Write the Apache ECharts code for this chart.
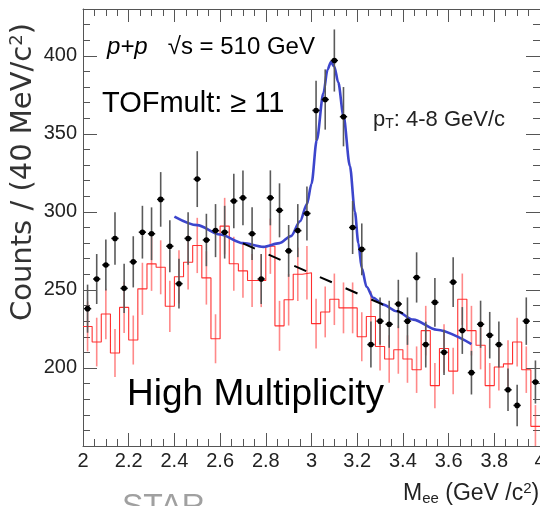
<!DOCTYPE html>
<html><head><meta charset="utf-8">
<script src="https://cdn.jsdelivr.net/npm/echarts@6/dist/echarts.min.js"></script>
<style>html,body{margin:0;padding:0;background:#fff;overflow:hidden}#c{width:540px;height:506px}</style>
</head><body><div id="c"></div>
<script>
// ---- axis setup ----
const xMin = 2.0, xMax = 4.0, binWidth = 0.04;
const yMin = 150, yMax = 430;
const xTickLabels = ['2','2.2','2.4','2.6','2.8','3','3.2','3.4','3.6','3.8','4'];
const yTickLabels = ['200','250','300','350','400'];

// ---- unlike-sign data (black points), one per 40 MeV bin from 2.00 to 4.00 ----
const dataCounts = [238,257,266,283,251,268,287,286,308,278,
                    254,283,321,282,288,287,307,309,286,257,
                    309,301,275,288,299,365,372,397,361,290,
                    276,215,230,228,241,230,258,215,242,210,
                    255,224,197,228,221,215,186,176,230,191];
const dataErrors = [15.4,16.0,16.3,16.8,15.8,16.4,16.9,16.9,17.5,16.7,
                    15.9,16.8,17.9,16.8,17.0,16.9,17.5,17.6,16.9,16.0,
                    17.6,17.3,16.6,17.0,17.3,19.1,19.3,19.9,19.0,17.0,
                    16.6,14.7,15.2,15.1,15.5,15.2,16.1,14.7,15.6,14.5,
                    16.0,15.0,14.0,15.1,14.9,14.7,13.6,13.3,15.2,13.8];

// ---- like-sign background (red histogram) ----
const likeSignCounts = [226.6,216.6,234.6,209.6,238.8,217.9,250.7,266.7,264.5,239.5,
                        258.4,267.7,278.5,257.7,218.7,290.9,266.8,262.2,256.0,256.0,
                        278.0,227.0,243.7,260.0,261.0,228.4,235.9,244.0,238.5,238.5,
                        220.0,233.0,213.8,205.7,211.7,205.7,198.9,223.9,188.7,212.5,
                        198.0,244.0,223.9,214.6,188.7,200.6,202.6,216.6,198.9,162.6];
const likeSignErrors = [16.0,15.6,16.2,15.4,16.4,15.7,16.7,17.3,17.3,16.4,
                        17.1,17.4,17.7,17.1,15.7,18.1,17.3,17.2,17.0,17.0,
                        17.7,16.0,16.5,17.1,17.2,16.0,16.3,16.5,16.3,16.3,
                        15.7,16.2,15.5,15.2,15.4,15.2,14.9,15.9,14.5,15.5,
                        14.9,16.5,15.9,15.5,14.5,15.1,15.1,15.6,14.9,13.6];

// ---- fit curve (signal + background) ----
const fitX = [2.40,2.50,2.60,2.70,2.79,2.86,2.91,2.95,2.98,3.00,3.023,3.052,3.07,3.085,3.10,3.117,3.14,3.168,3.19,3.205,3.22,3.241,3.27,3.314,3.373,3.445,3.548,3.70];
const fitY = [297,291.5,285.5,280,277.6,280,284.5,294,305,318,346,376,391,396,393,383,361.5,329.4,300,280,264,252,245,240.6,236.3,231,224.5,215.3];

// ---- background line (dashed) ----
const bgX = [2.70, 3.40];
const bgY = [279.8, 235.0];

// ---- derived data ----
const nBins = dataCounts.length;
const binCenters = [];
for (let i = 0; i < nBins; i++) binCenters.push(+(xMin + (i + 0.5) * binWidth).toFixed(3));
const blackData = binCenters.map((x, i) => [x, dataCounts[i], dataErrors[i]]);
const redErrData = binCenters.map((x, i) => [x, likeSignCounts[i], likeSignErrors[i]]);
const redStep = [];
for (let i = 0; i < nBins; i++) redStep.push([+(xMin + i * binWidth).toFixed(3), likeSignCounts[i]]);
redStep.push([xMax, likeSignCounts[nBins - 1]]);
const fitData = fitX.map((x, i) => [x, fitY[i]]);
const bgData = bgX.map((x, i) => [x, bgY[i]]);

const FONT = 'Liberation Sans, Arial, Helvetica, sans-serif';
const TITLE_FONT = 'DejaVu Sans, Liberation Sans, sans-serif';
const frameColor = '#555';

function xLabel(v) {
  const s = xTickLabels.find(t => Math.abs(parseFloat(t) - v) < 1e-6);
  return s === undefined ? '' : s;
}
function yLabel(v) {
  const s = yTickLabels.find(t => Math.abs(parseFloat(t) - v) < 1e-6);
  return s === undefined ? '' : s;
}

const chart = echarts.init(document.getElementById('c'), null, {renderer: 'canvas'});

const commonX = {
  type: 'value', min: xMin, max: xMax, interval: 0.2,
  axisLine: {show: true, onZero: false, lineStyle: {color: frameColor, width: 1}},
  axisTick: {show: true, inside: true, length: 13, lineStyle: {color: frameColor}},
  minorTick: {show: true, splitNumber: 4, length: 7, lineStyle: {color: frameColor}},
  splitLine: {show: false}, minorSplitLine: {show: false}
};
const commonY = {
  type: 'value', min: yMin, max: yMax, interval: 50,
  axisLine: {show: true, onZero: false, lineStyle: {color: frameColor, width: 1}},
  axisTick: {show: true, inside: true, length: 14, lineStyle: {color: frameColor}},
  minorTick: {show: true, splitNumber: 5, length: 7, lineStyle: {color: frameColor}},
  splitLine: {show: false}, minorSplitLine: {show: false}
};

const option = {
  backgroundColor: '#fff',
  animation: false,
  grid: {left: 83, right: 0, top: 9, bottom: 60, containLabel: false, outerBoundsMode: 'none'},
  xAxis: [
    Object.assign({}, commonX, {position: 'bottom',
      axisLabel: {show: true, formatter: xLabel, color: '#222', fontSize: 20, fontFamily: FONT, margin: 5,
                  showMinLabel: true, showMaxLabel: true, hideOverlap: false}}),
    Object.assign({}, commonX, {position: 'top', axisLabel: {show: false}})
  ],
  yAxis: [
    Object.assign({}, commonY, {position: 'left',
      axisLabel: {show: true, formatter: yLabel, color: '#222', fontSize: 20, fontFamily: FONT, margin: 6,
                  showMaxLabel: false}}),
    Object.assign({}, commonY, {position: 'right', axisLabel: {show: false}})
  ],
  series: [
    {
      type: 'line', name: 'like-sign', data: redStep, step: 'end', showSymbol: false,
      lineStyle: {color: '#ff3030', width: 1.1}, z: 2, silent: true
    },
    {
      type: 'custom', name: 'like-sign errors', data: redErrData, z: 3, clip: true,
      renderItem: function (params, api) {
        const x = api.value(0), y = api.value(1), e = api.value(2);
        const t = api.coord([x, y + e]), b = api.coord([x, y - e]);
        return {type: 'line', shape: {x1: t[0], y1: t[1], x2: b[0], y2: b[1]},
                style: {stroke: 'rgba(255,40,40,0.55)', lineWidth: 1.6}};
      }
    },
    {
      type: 'custom', name: 'unlike-sign', data: blackData, z: 6, clip: true,
      renderItem: function (params, api) {
        const x = api.value(0), y = api.value(1), e = api.value(2);
        const c = api.coord([x, y]);
        const t = api.coord([x, y + e]), b = api.coord([x, y - e]);
        const l = api.coord([x - binWidth * 0.4, y]), r = api.coord([x + binWidth * 0.4, y]);
        return {type: 'group', children: [
          {type: 'line', shape: {x1: c[0], y1: t[1], x2: c[0], y2: b[1]}, style: {stroke: '#5a5a5a', lineWidth: 1.6}},
          {type: 'line', shape: {x1: l[0], y1: c[1], x2: r[0], y2: c[1]}, style: {stroke: '#111', lineWidth: 1.5}},
          {type: 'circle', shape: {cx: c[0], cy: c[1], r: 2.8}, style: {fill: '#000'}}
        ]};
      }
    },
    {
      type: 'line', name: 'fit', data: fitData, smooth: 0.3, smoothMonotone: 'x', showSymbol: false,
      lineStyle: {color: '#3c45cc', width: 2.6}, z: 5, silent: true
    },
    {
      type: 'line', name: 'background', data: bgData, showSymbol: false,
      lineStyle: {color: '#000', width: 2, type: [13, 15]}, z: 7, silent: true
    }
  ],
  graphic: [
    {type: 'text', x: 23, y: 172, rotation: Math.PI / 2,
     style: {text: '{a|Counts / (40 MeV/c}{s|2}{a|)}', align: 'center', verticalAlign: 'middle',
             rich: {a: {fontSize: 29, fontFamily: TITLE_FONT, fill: '#333'},
                    s: {fontSize: 18, fontFamily: TITLE_FONT, fill: '#333', verticalAlign: 'top', padding: [0, 0, 12, 0]}}}},
    {type: 'text', x: 107, y: 47,
     style: {text: '{i|p+p}{n|   √s = 510 GeV}', align: 'left', verticalAlign: 'middle',
             rich: {i: {fontSize: 24, fontStyle: 'italic', fontFamily: FONT, fill: '#000'},
                    n: {fontSize: 24, fontFamily: FONT, fill: '#000'}}}},
    {type: 'text', x: 102, y: 104,
     style: {text: 'TOFmult: ≥ 11', align: 'left', verticalAlign: 'middle', fontSize: 29, fontFamily: FONT, fill: '#000'}},
    {type: 'text', x: 373, y: 120,
     style: {text: '{a|p}{s|T}{a|: 4-8 GeV/c}', align: 'left', verticalAlign: 'middle',
             rich: {a: {fontSize: 22, fontFamily: FONT, fill: '#222'},
                    s: {fontSize: 14, fontFamily: FONT, fill: '#222', verticalAlign: 'bottom', padding: [9, 0, 0, 0]}}}},
    {type: 'text', x: 127, y: 395,
     style: {text: 'High Multiplicity', align: 'left', verticalAlign: 'middle', fontSize: 37, fontFamily: FONT, fill: '#000'}},
    {type: 'text', x: 403, y: 494,
     style: {text: '{a|M}{s|ee}{a| (GeV /c}{p|2}{a|)}', align: 'left', verticalAlign: 'middle',
             rich: {a: {fontSize: 23, fontFamily: FONT, fill: '#222'},
                    s: {fontSize: 15, fontFamily: FONT, fill: '#222', verticalAlign: 'bottom', padding: [9, 0, 0, 0]},
                    p: {fontSize: 15, fontFamily: FONT, fill: '#222', verticalAlign: 'top', padding: [0, 0, 10, 0]}}}},
    {type: 'text', x: 122, y: 507,
     style: {text: 'STAR', align: 'left', verticalAlign: 'middle', fontSize: 32, fontFamily: FONT, fill: '#a0a0a0'}}
  ]
};
chart.setOption(option);
</script>
</body></html>
